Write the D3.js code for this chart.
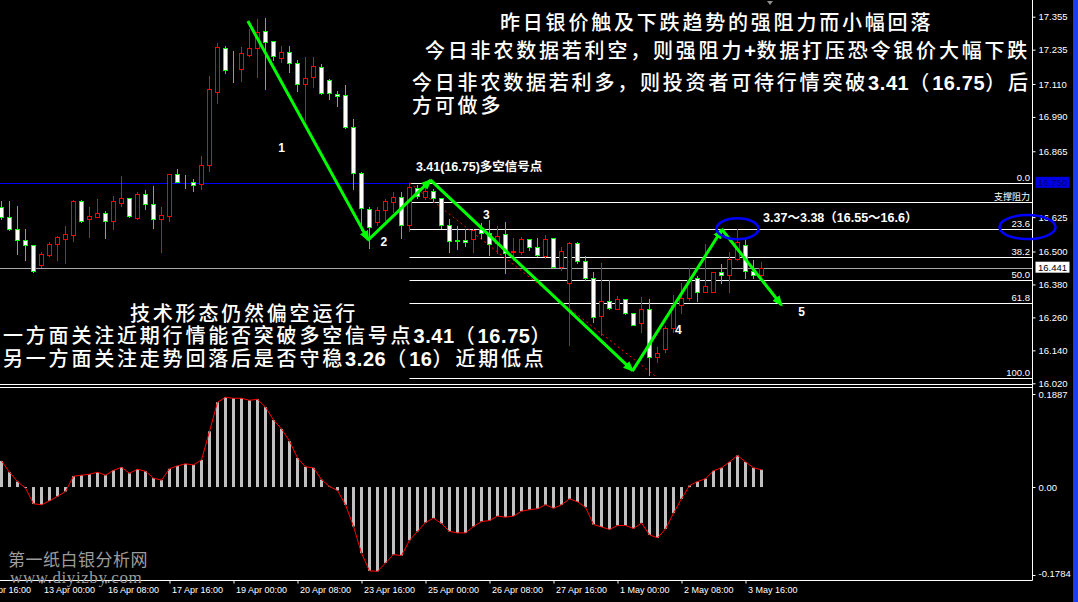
<!DOCTYPE html>
<html><head><meta charset="utf-8">
<script src="https://cdn.jsdelivr.net/npm/d3@7/dist/d3.min.js"></script>
<style>html,body{margin:0;padding:0;background:#000;overflow:hidden}</style>
</head><body><svg id="c" width="1078" height="602"></svg>
<script>
// ---------------- data ----------------
const opens  = [16.663,16.624,16.581,16.541,16.523,16.450,16.488,16.528,16.547,16.561,16.684,16.617,16.627,16.639,16.610,16.678,16.694,16.621,16.708,16.672,16.617,16.628,16.781,16.754,16.752,16.745,16.814,17.080,17.240,17.170,17.166,17.216,17.240,17.302,17.265,17.203,17.228,17.185,17.109,17.134,17.171,17.126,17.075,17.069,16.952,16.785,16.656,16.607,16.650,16.681,16.697,16.595,16.730,16.697,16.719,16.694,16.595,16.542,16.542,16.544,16.581,16.566,16.532,16.563,16.497,16.499,16.544,16.515,16.485,16.548,16.445,16.384,16.530,16.466,16.405,16.266,16.321,16.292,16.326,16.275,16.241,16.289,16.115,16.146,16.220,16.305,16.329,16.403,16.354,16.354,16.424,16.416,16.472,16.524,16.429,16.414];
const highs  = [16.684,16.684,16.666,16.582,16.525,16.498,16.535,16.556,16.593,16.686,16.688,16.662,16.691,16.647,16.703,16.775,16.695,16.717,16.724,16.738,16.662,16.782,16.800,16.779,16.764,16.848,17.139,17.259,17.248,17.229,17.244,17.309,17.346,17.349,17.266,17.248,17.248,17.197,17.208,17.208,17.183,17.127,17.084,17.105,16.982,16.791,16.663,16.661,16.691,16.718,16.717,16.748,16.742,16.748,16.726,16.695,16.617,16.593,16.583,16.583,16.603,16.615,16.593,16.607,16.548,16.552,16.546,16.548,16.560,16.549,16.517,16.536,16.536,16.484,16.424,16.458,16.396,16.338,16.327,16.276,16.335,16.326,16.153,16.229,16.342,16.384,16.439,16.411,16.526,16.425,16.453,16.499,16.582,16.548,16.469,16.463];
const lows   = [16.617,16.579,16.491,16.469,16.426,16.442,16.484,16.469,16.459,16.539,16.607,16.554,16.625,16.550,16.583,16.666,16.627,16.619,16.656,16.587,16.499,16.612,16.753,16.732,16.720,16.726,16.794,17.042,17.149,17.118,17.122,17.213,17.137,17.093,17.197,17.191,17.155,17.086,16.979,17.100,17.075,17.055,17.031,16.951,16.726,16.578,16.512,16.596,16.615,16.645,16.550,16.576,16.694,16.690,16.681,16.584,16.499,16.509,16.520,16.499,16.550,16.487,16.493,16.421,16.469,16.491,16.506,16.484,16.475,16.444,16.433,16.159,16.457,16.396,16.244,16.196,16.292,16.290,16.274,16.232,16.208,16.050,16.099,16.135,16.208,16.275,16.323,16.321,16.352,16.352,16.384,16.354,16.469,16.402,16.402,16.411];
const closes = [16.627,16.581,16.541,16.523,16.428,16.490,16.527,16.553,16.563,16.684,16.610,16.628,16.639,16.610,16.684,16.694,16.628,16.708,16.672,16.617,16.632,16.781,16.754,16.752,16.742,16.814,17.091,17.244,17.160,17.167,17.222,17.240,17.298,17.262,17.211,17.225,17.185,17.109,17.131,17.174,17.076,17.076,17.065,16.952,16.787,16.657,16.588,16.650,16.683,16.700,16.595,16.734,16.703,16.719,16.694,16.595,16.537,16.539,16.536,16.578,16.566,16.527,16.555,16.496,16.503,16.544,16.515,16.486,16.544,16.445,16.502,16.531,16.466,16.405,16.263,16.319,16.293,16.326,16.275,16.234,16.289,16.115,16.130,16.221,16.304,16.329,16.396,16.354,16.373,16.424,16.416,16.472,16.533,16.428,16.413,16.441];
const oscValues = [0.053,0.030,0.011,-0.002,-0.034,-0.036,-0.028,-0.019,-0.009,0.022,0.024,0.026,0.030,0.024,0.034,0.040,0.028,0.036,0.032,0.018,0.014,0.037,0.043,0.047,0.045,0.055,0.113,0.172,0.182,0.180,0.180,0.176,0.178,0.162,0.136,0.118,0.093,0.059,0.041,0.039,0.015,0.001,-0.007,-0.036,-0.080,-0.134,-0.170,-0.171,-0.154,-0.137,-0.139,-0.108,-0.090,-0.072,-0.063,-0.074,-0.090,-0.093,-0.093,-0.080,-0.070,-0.068,-0.059,-0.061,-0.059,-0.049,-0.046,-0.044,-0.036,-0.043,-0.036,-0.024,-0.030,-0.041,-0.076,-0.081,-0.086,-0.078,-0.078,-0.084,-0.073,-0.097,-0.103,-0.085,-0.053,-0.024,0.003,0.011,0.017,0.033,0.039,0.051,0.064,0.051,0.039,0.035];

const priceTicks = [17.355,17.235,17.110,16.990,16.865,16.625,16.500,16.380,16.260,16.140,16.020];
const oscTicks = [0.1887, 0, -0.1784];
const oscTickLabels = ["0.1887","0.00","-0.1784"];
const timeLabels = ["12 Apr 16:00","13 Apr 00:00","16 Apr 08:00","17 Apr 16:00","19 Apr 00:00","20 Apr 08:00","23 Apr 16:00","25 Apr 00:00","26 Apr 08:00","27 Apr 16:00","1 May 00:00","2 May 08:00","3 May 16:00"];
const timeLabelBars = [-3,5,13,21,29,37,45,53,61,69,77,85,93];

const hLinePrice = 16.750;
const bidPrice = 16.441;
const fibHigh = 16.750, fibLow = 16.040, fibStartBar = 51, fibEndBar = 82;
const fibLevels = [0, 10, 23.6, 38.2, 50, 61.8, 100];
const fibLabels = ["0.0","支撑阻力","23.6","38.2","50.0","61.8","100.0"];

const waveBars   = [30.8, 45.85, 53.65, 78.9, 90.06, 97.5];
const wavePrices = [17.339, 16.542, 16.760, 16.066, 16.580, 16.305];
const waveNames  = ["1","2","3","4","5"];
const waveNameBars   = [35.0, 47.8, 60.6, 84.6, 100.0];
const waveNamePrices = [16.878, 16.536, 16.633, 16.217, 16.281];

const ellipseBars = [92.0, 128.25];
const ellipsePrices = [16.583, 16.589];

const titleLines = ["昨日银价触及下跌趋势的强阻力而小幅回落",
  "今日非农数据若利空，则强阻力+数据打压恐令银价大幅下跌",
  "今日非农数据若利多，则投资者可待行情突破3.41（16.75）后",
  "方可做多"];
const leftLines = ["技术形态仍然偏空运行",
  "一方面关注近期行情能否突破多空信号点3.41（16.75）",
  "另一方面关注走势回落后是否守稳3.26（16）近期低点"];
const signalNote = "3.41(16.75)多空信号点";
const rangeNote = "3.37～3.38（16.55～16.6）";

// ---------------- scales ----------------
const svg = d3.select("#c");
const x = d3.scaleLinear().domain([0, 95]).range([1.5, 761.5]);
const y = d3.scaleLinear().domain([16.020, 17.355]).range([383.3, 16.7]);
const yo = d3.scaleLinear().domain([-0.1784, 0.1887]).range([575, 394]);
const AX = 1032.5;
const crisp = v => Math.round(v) + 0.5;

svg.append("rect").attr("width",1078).attr("height",602).attr("fill","#000");

// horizontal line + bid line
svg.append("line").attr("x1",0).attr("x2",AX).attr("y1",crisp(y(hLinePrice))).attr("y2",crisp(y(hLinePrice))).attr("stroke","#0000ff").attr("stroke-width",1);
svg.append("line").attr("x1",0).attr("x2",AX).attr("y1",crisp(y(bidPrice))).attr("y2",crisp(y(bidPrice))).attr("stroke","#a8a8a8").attr("stroke-width",1);

// fibonacci
const fibG = svg.append("g");
fibLevels.forEach((lv,k) => {
  const p = fibHigh - (fibHigh - fibLow) * lv / 100;
  const yy = crisp(y(p));
  fibG.append("line").attr("x1",x(fibStartBar)).attr("x2",AX).attr("y1",yy).attr("y2",yy).attr("stroke","#fff").attr("stroke-width",1);
  const isCJK = /[^\x00-\x7e]/.test(fibLabels[k]);
  fibG.append("text").attr("x",AX-2.5).attr("y",yy-2.5).attr("text-anchor","end")
    .attr("fill","#fff").style("font-family", isCJK ? "'Noto Sans CJK SC'" : "'Liberation Sans',Arial")
    .style("font-size", isCJK ? "9px" : "9.5px").text(fibLabels[k]);
});
svg.append("line").attr("x1",x(fibStartBar)).attr("y1",y(fibHigh)).attr("x2",x(fibEndBar)).attr("y2",y(fibLow))
  .attr("stroke","#ff0000").attr("stroke-width",1).attr("stroke-dasharray","2,3");

// candles
const cg = svg.append("g");
opens.forEach((o,i) => {
  const c = closes[i], up = c >= o;
  const col = up ? "#ff0000" : "#00ff00";
  const cx = x(i);
  cg.append("line").attr("x1",cx).attr("x2",cx).attr("y1",Math.round(y(highs[i]))).attr("y2",Math.round(y(lows[i]))+1).attr("stroke",col).attr("stroke-width",1);
  const yt = crisp(y(Math.max(o,c))), yb = crisp(y(Math.min(o,c)));
  cg.append("rect").attr("x",cx-2).attr("width",4).attr("y",yt).attr("height",Math.max(0,yb-yt))
    .attr("fill", up ? "#000" : "#fff").attr("stroke",col).attr("stroke-width",1);
});

// panel borders
svg.append("line").attr("x1",0).attr("x2",AX).attr("y1",384.5).attr("y2",384.5).attr("stroke","#fff");
svg.append("line").attr("x1",0).attr("x2",AX).attr("y1",387.5).attr("y2",387.5).attr("stroke","#fff");

// oscillator
const og = svg.append("g");
oscValues.forEach((v,i) => {
  const y0 = yo(0), y1 = yo(v);
  og.append("rect").attr("x",x(i)-1.5).attr("width",3).attr("y",Math.min(y0,y1)).attr("height",Math.abs(y1-y0)).attr("fill","#c0c0c0");
});
og.append("path").datum(oscValues).attr("d", d3.line().x((d,i)=>x(i)).y(d=>yo(d)))
  .attr("fill","none").attr("stroke","#ff0000").attr("stroke-width",1);

// watermark
svg.append("text").attr("x",8).attr("y",566).attr("fill","#9c9c9c").style("font-family","'Noto Sans CJK SC'").style("font-size","17px").style("letter-spacing","0.5px").text("第一纸白银分析网");

// axes
svg.append("line").attr("x1",AX).attr("x2",AX).attr("y1",0).attr("y2",580.5).attr("stroke","#fff");
svg.append("line").attr("x1",0).attr("x2",AX).attr("y1",580.5).attr("y2",580.5).attr("stroke","#fff");
svg.append("text").attr("x",10).attr("y",583).attr("fill","#9c9c9c").style("font-family","'Liberation Serif',serif").style("font-size","17px").style("letter-spacing","0.6px").text("www.diyizby.com");

const axG = svg.append("g").attr("transform",`translate(${AX},0)`);
axG.call(d3.axisRight(y).tickValues(priceTicks).tickSize(3).tickPadding(3).tickFormat(d3.format(".3f")));
const axO = svg.append("g").attr("transform",`translate(${AX},0)`);
axO.call(d3.axisRight(yo).tickValues(oscTicks).tickSize(3).tickPadding(3).tickFormat((d,k)=>oscTickLabels[k]));
[axG, axO].forEach(a => {
  a.select(".domain").remove();
  a.selectAll("line").attr("stroke","#fff");
  a.selectAll("text").attr("fill","#fff").style("font-family","'Liberation Sans',Arial").style("font-size","9.5px");
});
axO.selectAll(".tick").filter(d => d < -0.1).select("text").attr("y",-2);

const xTime = d3.scaleLinear().domain([0,95]).range([x(0), x(95)]);
const axT = svg.append("g").attr("transform","translate(0,580.5)");
axT.call(d3.axisBottom(xTime).tickValues(timeLabelBars).tickSize(3).tickFormat((d,k)=>timeLabels[k]));
axT.select(".domain").remove();
axT.selectAll("line").attr("stroke","#fff");
axT.selectAll("text").attr("fill","#fff").attr("text-anchor","start").attr("x",2).attr("y",6)
  .style("font-family","'Liberation Sans',Arial").style("font-size","9px");

// price labels on axis
function axisBox(price, bg, fg, txt) {
  const yy = y(price);
  svg.append("rect").attr("x",AX+3).attr("y",yy-6).attr("width",34).attr("height",11).attr("fill",bg);
  svg.append("text").attr("x",AX+5.5).attr("y",yy+3.5).attr("fill",fg).style("font-family","'Liberation Sans',Arial").style("font-size","9.5px").text(txt);
}
axisBox(hLinePrice, "#0000e6", "#000070", d3.format(".3f")(hLinePrice));
axisBox(bidPrice, "#ffffff", "#000000", d3.format(".3f")(bidPrice));

// right blue strip & shift marker
svg.append("rect").attr("x",1073).attr("y",0).attr("width",5).attr("height",602).attr("fill","#1c3cf4");
svg.append("path").attr("d","M767,1 L773,1 L770,5 Z").attr("fill","#909090");

// wave lines
const defs = svg.append("defs");
defs.append("marker").attr("id","arr").attr("markerUnits","userSpaceOnUse").attr("markerWidth",14).attr("markerHeight",14)
  .attr("refX",9).attr("refY",5).attr("orient","auto")
  .append("path").attr("d","M0,0.5 L11,5 L0,9.5 Z").attr("fill","#00ff00");
const wg = svg.append("g");
for (let k=0;k<waveBars.length-1;k++){
  wg.append("line").attr("x1",x(waveBars[k])).attr("y1",y(wavePrices[k])).attr("x2",x(waveBars[k+1])).attr("y2",y(wavePrices[k+1]))
    .attr("stroke","#00ff00").attr("stroke-width",3).attr("marker-end","url(#arr)");
}
waveNames.forEach((n,k) => {
  svg.append("text").attr("x",x(waveNameBars[k])).attr("y",y(waveNamePrices[k])+4.5).attr("text-anchor","middle")
    .attr("fill","#fff").style("font-family","'Liberation Sans',Arial").style("font-weight","bold").style("font-size","12px").text(n);
});

// ellipses
svg.append("ellipse").attr("cx",x(ellipseBars[0])).attr("cy",y(ellipsePrices[0])).attr("rx",21).attr("ry",10.5)
  .attr("fill","none").attr("stroke","#0000ff").attr("stroke-width",2.5);
svg.append("ellipse").attr("cx",x(ellipseBars[1])).attr("cy",y(ellipsePrices[1])).attr("rx",28).attr("ry",12)
  .attr("fill","none").attr("stroke","#0000ff").attr("stroke-width",2.5);

// text helper: ASCII runs in bold Latin font, others CJK
function mixed(str, px, py, size, ls, cjkWeight, asciiLs) {
  const t = svg.append("text").attr("x",px).attr("y",py).attr("fill","#fff")
    .style("font-size",size+"px");
  str.match(/[\x20-\x7e]+|[^\x20-\x7e]+/g).forEach(r => {
    const ts = t.append("tspan").text(r);
    if (/^[\x20-\x7e]+$/.test(r)) ts.style("font-family","'Liberation Sans',Arial").style("font-weight","bold").style("letter-spacing",asciiLs+"px");
    else ts.style("font-family","'Noto Sans CJK SC'").style("font-weight",cjkWeight).style("letter-spacing",ls+"px");
  });
  return t;
}
const titleX = [500, 425, 412, 412], titleY = [29.5, 57.5, 90, 112.5];
titleLines.forEach((s,k) => mixed(s, titleX[k], titleY[k], 20, 2.8, 500, 0.6));
const leftX = [130, 3, 3], leftY = [320.5, 343, 366];
leftLines.forEach((s,k) => mixed(s, leftX[k], leftY[k], 20, 2.8, 500, 0.6));

mixed(signalNote, x(51.8), y(16.808)+4.5, 12.5, 0, "bold", 0);
mixed(rangeNote, x(95.2), y(16.622)+4.5, 12.5, 0, "bold", 0);
</script></body></html>
